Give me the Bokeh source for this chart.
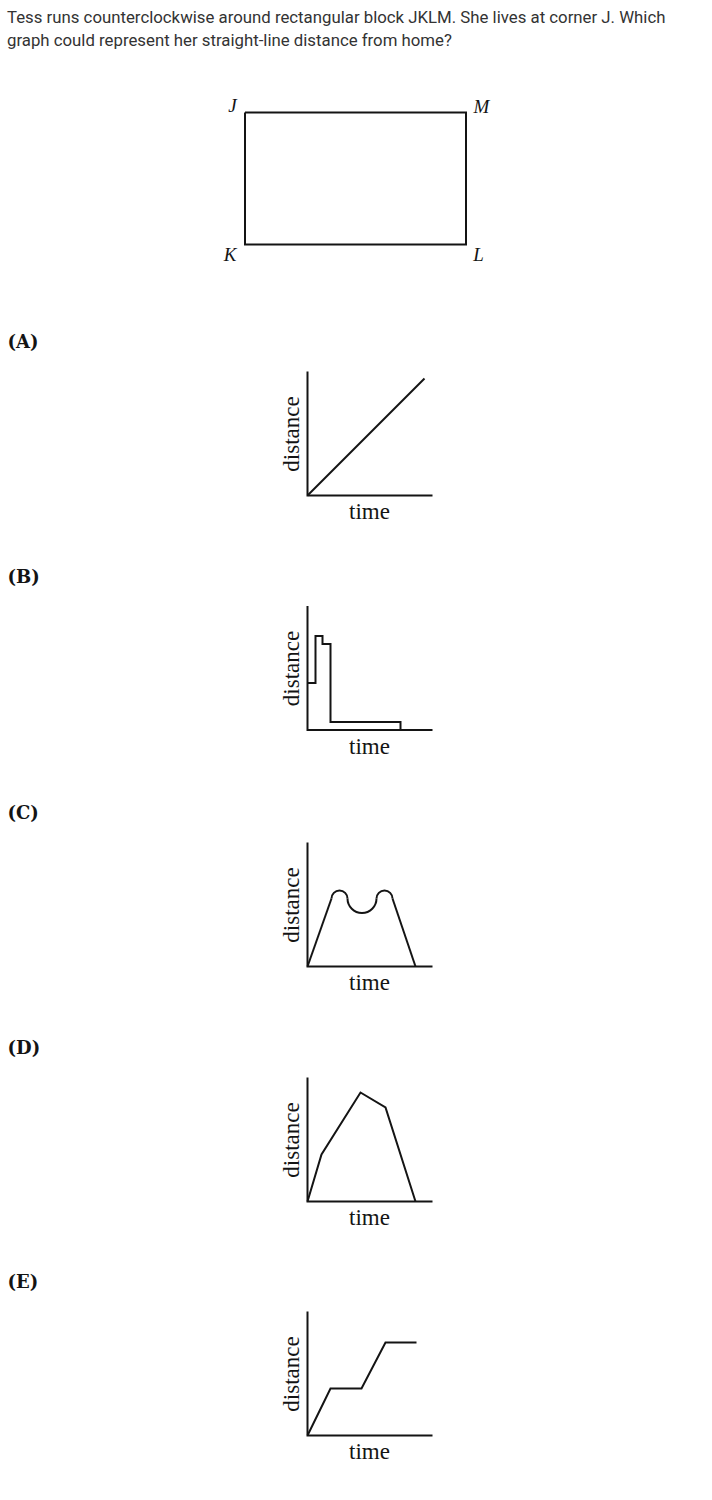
import math
from bokeh.plotting import figure
from bokeh.models import Range1d
from bokeh.embed import file_html
from bokeh.resources import INLINE
from bokeh.core.properties import value

# ---------------- content / data ----------------
question_lines = [
    "Tess runs counterclockwise around rectangular block JKLM. She lives at corner J. Which",
    "graph could represent her straight-line distance from home?",
]
corner_labels = ["J", "K", "L", "M"]
option_labels = ["(A)", "(B)", "(C)", "(D)", "(E)"]
x_label = "time"
y_label = "distance"

# curves, in (time, distance) units of each small graph
A_time = [0, 117]
A_dist = [0, 117]
B_time = [0, 8, 8, 15, 15, 23, 23, 93, 93]
B_dist = [47, 47, 94, 94, 86, 86, 8, 8, 0]
C_leg_time = [[0, 24], [85, 108]]
C_leg_dist = [[0, 68], [68, 0]]
C_arc_time = [32, 54.5, 77]
C_arc_dist = [68, 68, 68]
C_arc_radius = [8, 14.5, 8]
C_arc_start = [0, math.pi, 0]
C_arc_end = [math.pi, 2 * math.pi, math.pi]
D_time = [0, 14, 53, 78, 108]
D_dist = [0, 47, 109, 94, 0]
E_time = [0, 23, 54, 78, 109]
E_dist = [0, 47, 47, 93, 93]
axis_time_max = 125
axis_dist_max = 124

# ---------------- layout (page pixels) ----------------
W, H = 712, 1500


def X(px):
    return px


def Y(py):
    return H - py


ink = "#141414"
origins_x = 307
origins_y = [495, 729.5, 966, 1201, 1435]
block_left, block_right, block_top, block_bottom = 244.5, 465.5, 112, 244

p = figure(width=W, height=H, x_range=Range1d(0, W), y_range=Range1d(0, H),
           output_backend="svg", toolbar_location=None, min_border=0,
           x_axis_location=None, y_axis_location=None)
p.grid.visible = False
p.outline_line_color = None
p.background_fill_color = "white"
p.border_fill_color = "white"

# question text
p.text(x=[X(6.5), X(6.5)], y=[Y(16), Y(39.5)], text=question_lines,
       text_font=value("Roboto"), text_font_size="16.8px", text_color="#333333",
       text_align="left", text_baseline="alphabetic")

# block rectangle
p.line(x=[X(block_left), X(block_left), X(block_right), X(block_right), X(block_left)],
       y=[Y(block_top), Y(block_bottom), Y(block_bottom), Y(block_top), Y(block_top)],
       line_color=ink, line_width=2, line_join="miter")
corner_px = [(block_left - 12.5, block_top - 7), (block_left - 15, block_bottom + 9.5),
             (block_right + 12.5, block_bottom + 9.5), (block_right + 15.5, block_top - 6)]
p.text(x=[X(c[0]) for c in corner_px], y=[Y(c[1]) for c in corner_px], text=corner_labels,
       text_font=value("Liberation Serif"), text_font_style="italic", text_font_size="19px",
       text_color=ink, text_align="center", text_baseline="middle")

# option labels
p.text(x=[X(7)] * 5, y=[Y(oy - 154) for oy in origins_y], text=option_labels,
       text_font=value("DejaVu Serif"), text_font_style="bold", text_font_size="18px",
       text_color=ink, text_align="left", text_baseline="middle")

curves = [(A_time, A_dist), (B_time, B_dist), None, (D_time, D_dist), (E_time, E_dist)]
for i, oy in enumerate(origins_y):
    ox = X(origins_x)
    oyd = Y(oy)
    # axes
    p.line(x=[ox, ox, ox + axis_time_max], y=[oyd + axis_dist_max, oyd, oyd],
           line_color=ink, line_width=2, line_join="miter")
    # labels
    p.text(x=[ox + 62], y=[oyd - 16], text=[x_label],
           text_font=value("Liberation Serif"), text_font_size="23px", text_color=ink,
           text_align="center", text_baseline="alphabetic")
    p.text(x=[ox - 16], y=[oyd + 61.5], text=[y_label], angle=math.pi / 2,
           text_font=value("Liberation Serif"), text_font_size="23px", text_color=ink,
           text_align="center", text_baseline="alphabetic")
    if curves[i] is not None:
        t, d = curves[i]
        p.line(x=[ox + v for v in t], y=[oyd + v for v in d],
               line_color=ink, line_width=2, line_join="miter")
    else:
        p.multi_line(xs=[[ox + v for v in seg] for seg in C_leg_time],
                     ys=[[oyd + v for v in seg] for seg in C_leg_dist],
                     line_color=ink, line_width=2)
        p.arc(x=[ox + v for v in C_arc_time], y=[oyd + v for v in C_arc_dist],
              radius=C_arc_radius, start_angle=C_arc_start, end_angle=C_arc_end,
              line_color=ink, line_width=2)

open("out.html", "w").write(file_html(p, INLINE))
